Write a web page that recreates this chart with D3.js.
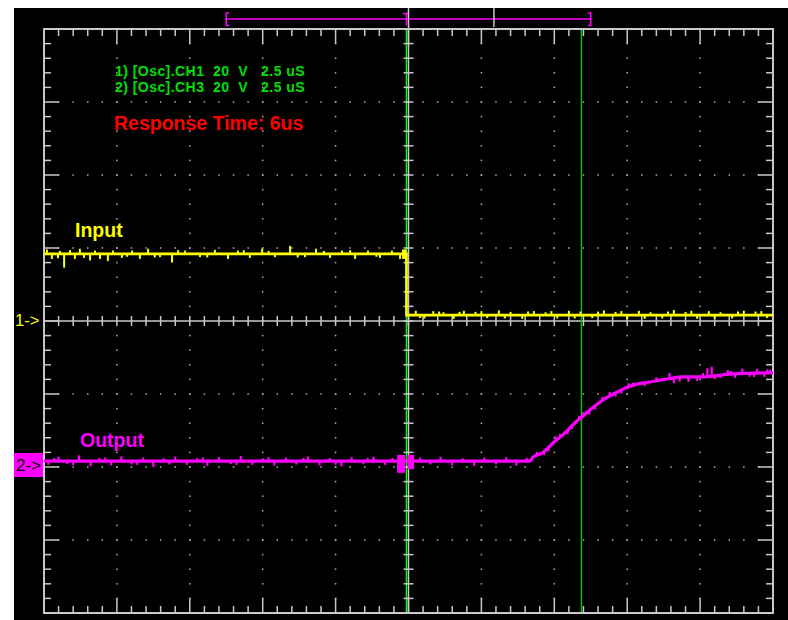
<!DOCTYPE html>
<html><head><meta charset="utf-8">
<script src="https://cdn.jsdelivr.net/npm/d3@7"></script>
<style>html,body{margin:0;padding:0;background:#fff;overflow:hidden} svg{display:block}</style>
</head><body><svg id="c" width="788" height="620"></svg>
<script>
// ---- data (time in µs, 2.5 µs/div; volts, 20 V/div) ----
const timeDomain = [-12.5, 12.5];
const divDomain = [-4, 4];
const voltsPerDiv = 20;
const ch1OffsetDiv = 0;
const ch2OffsetDiv = -2;
const infoLines = ["1) [Osc].CH1  20  V   2.5 uS", "2) [Osc].CH3  20  V   2.5 uS"];
const titleText = "Response Time: 6us";
const traceLabels = ["Input", "Output"];
const markerLabels = ["1->", "2->"];
const cursorTimes = [-0.07, 5.93];
const windowBracket = [-6.25, 6.25];
const windowMarks = [0, 2.93];

const inputTime  = [-12.5, -0.07, -0.07, 12.5];
const inputVolts = [18.4, 18.4, 1.6, 1.6];
const inputSpikes = [
 [-12.40,1.2],[-12.23,-1.4],[-12.02,-1.2],[-11.81,-3.8],[-11.61,1.0],[-11.44,-1.4],[-11.27,1.4],[-11.13,-1.1],
 [-10.92,-1.8],[-10.58,-1.4],[-10.31,-2.0],[-10.13,0.9],[-9.83,-1.1],[-9.48,0.9],[-9.21,-1.4],[-8.93,1.4],
 [-8.52,-0.9],[-8.11,-2.4],[-7.66,0.9],[-7.15,-0.9],[-6.64,1.1],[-6.19,-1.4],[-5.85,0.9],[-5.44,-1.1],
 [-5.02,1.4],[-4.58,-0.9],[-4.06,2.2],[-3.55,-0.9],[-3.17,1.4],[-2.69,-1.1],[-2.28,0.9],[-1.83,-1.4],
 [-1.39,0.9],[-0.98,-1.1],[-0.57,0.9],[-0.29,-1.4],
 [-11.95,0.8],[-10.75,0.9],[-9.65,-0.8],[-8.7,-1.0],[-7.9,1.0],[-6.9,-1.0],[-5.65,1.0],[-4.8,0.8],[-3.8,-1.0],[-2.9,0.8],[-2.0,1.0],[-1.1,-0.8],
 [0.25,1.2],[0.55,-0.9],[0.85,1.1],[1.2,0.8],[1.55,-1.0],[1.9,1.2],[2.3,0.9],[2.7,-0.8],[3.1,1.3],[3.5,0.9],
 [3.9,-1.0],[4.3,1.1],[4.7,0.8],[5.1,-0.9],[5.5,1.2],[5.9,1.0],[6.3,-0.8],[6.7,1.3],[7.1,0.9],[7.5,-1.1],
 [7.9,1.2],[8.3,0.8],[8.7,-0.9],[9.1,1.4],[9.5,0.9],[9.9,-1.0],[10.3,1.1],[10.7,0.8],[11.1,-0.9],[11.5,1.2],
 [11.9,1.0],[12.3,-0.8],
 [0.4,-0.8],[1.05,1.0],[1.75,0.9],[2.5,1.1],[3.3,-0.9],[4.1,1.0],[4.9,1.1],[5.7,-0.9],[6.5,1.0],[7.3,1.1],[8.1,-1.0],[8.9,1.0],[9.7,1.2],[10.5,-0.9],[11.3,1.0],[12.1,1.1]
];
const inputGlitch = [[-0.22, -0.07, 17.0, 19.6]];

const outputTime  = [-12.5, 4.17, 4.27, 4.58, 4.96, 5.13, 5.44, 5.71, 5.95, 6.22, 6.57, 6.84, 7.15, 7.42, 7.84, 8.28, 8.87, 9.41, 10.0, 11.13, 12.5];
const outputVolts = [1.6, 1.6, 2.7, 3.8, 6.6, 7.7, 9.9, 12.1, 13.7, 15.6, 17.8, 19.2, 20.5, 21.6, 22.7, 23.3, 24.1, 24.7, 24.7, 25.5, 25.8];
const outputSpikes = [
 [-12.35,-1.0],[-12.0,1.2],[-11.7,-0.8],[-11.3,1.6],[-10.9,-1.4],[-10.6,0.9],[-10.2,-1.1],[-9.85,1.3],
 [-9.5,-0.9],[-9.1,1.0],[-8.75,-1.6],[-8.4,0.8],[-8.0,1.2],[-7.6,-1.0],[-7.25,0.9],[-6.9,-1.3],[-6.5,1.1],
 [-6.1,-0.8],[-5.75,1.4],[-5.35,-1.0],[-5.0,0.8],[-4.6,-1.2],[-4.2,1.0],[-3.85,-0.9],[-3.45,1.3],[-3.05,-1.1],
 [-2.7,0.9],[-2.3,-1.4],[-1.95,1.1],[-1.55,-0.8],[-1.2,1.2],[-0.8,-1.0],[-0.55,0.9],
 [-12.15,0.9],[-11.5,-1.1],[-10.4,1.0],[-9.3,-1.0],[-8.2,-0.9],[-7.05,1.0],[-5.9,-1.0],[-4.8,1.1],[-3.6,0.9],[-2.5,-1.0],[-1.4,0.9],
 [0.4,1.0],[0.75,-0.9],[1.1,1.2],[1.5,-1.1],[1.85,0.8],[2.25,-1.3],[2.6,1.0],[3.0,-0.9],[3.35,1.1],[3.7,-1.2],[4.05,0.9],
 [4.4,1.0],[4.65,-1.0],[4.8,-1.1],[5.05,1.2],[5.2,0.9],[5.45,-1.0],[5.6,-0.8],[5.85,1.0],[6.0,1.0],[6.2,-1.1],[6.4,-0.9],[6.65,1.0],[6.9,1.1],[7.1,-1.0],[7.3,-1.0],[7.55,1.0],[7.7,0.8],[8.1,-0.9],[8.5,1.0],
 [8.95,1.6],[9.1,-1.4],[9.3,-1.2],[9.6,-1.4],[9.9,-1.1],[10.25,2.2],[10.4,2.5],[10.5,-1.0],[10.7,-0.8],[10.95,1.2],
 [11.2,-1.1],[11.45,1.4],[11.7,-0.9],[11.95,1.2],[12.2,-1.0],[12.4,0.9],[10.1,1.0],[11.05,0.9],[11.85,-1.0],[12.3,1.0]
];
const outputGlitch = [[-0.39, -0.12, -1.6, 3.3], [-0.02, 0.19, -0.6, 3.3]];

// ---- drawing ----
const svg = d3.select("#c");
const FONT = "'Liberation Sans', Arial, sans-serif";
const GRID = "#c8c8c8";
const x = d3.scaleLinear(timeDomain, [44, 773]);
const yd = d3.scaleLinear(divDomain, [613, 29]);
const y1 = v => yd(ch1OffsetDiv + v / voltsPerDiv);
const y2 = v => yd(ch2OffsetDiv + v / voltsPerDiv);

svg.append("rect").attr("x", 14).attr("y", 8).attr("width", 788 - 14).attr("height", 620 - 8).attr("fill", "#000");

const minorT = d3.range(0, 51).map(i => timeDomain[0] + i * 0.5);
const minorD = d3.range(0, 41).map(i => divDomain[0] + i * 0.2);
const isMajT = t => Math.abs(t / 2.5 - Math.round(t / 2.5)) < 1e-6;
const isMajD = v => Math.abs(v - Math.round(v)) < 1e-6;
const majT = minorT.filter(t => isMajT(t) && Math.abs(t) > 1e-6 && Math.abs(Math.abs(t) - 12.5) > 1e-6);
const majD = minorD.filter(v => isMajD(v) && Math.abs(v) > 1e-6 && Math.abs(Math.abs(v) - 4) > 1e-6);

// dots
const dots = [];
majT.forEach(t => minorD.slice(1, -1).forEach(v => dots.push([t, v])));
majD.forEach(v => minorT.slice(1, -1).forEach(t => dots.push([t, v])));
svg.append("g").selectAll("rect").data(dots).join("rect")
  .attr("x", d => x(d[0]) - 0.75).attr("y", d => yd(d[1]) - 0.75)
  .attr("width", 1.5).attr("height", 1.5).attr("fill", "#b0b0b0");

// center axis lines
const ax = svg.append("g").attr("stroke", GRID).attr("stroke-width", 1.5);
ax.append("line").attr("x1", x(timeDomain[0])).attr("x2", x(timeDomain[1])).attr("y1", yd(0)).attr("y2", yd(0));
ax.append("line").attr("x1", x(0)).attr("x2", x(0)).attr("y1", yd(divDomain[0])).attr("y2", yd(divDomain[1]));

// cursors
svg.append("g").selectAll("line").data(cursorTimes).join("line")
  .attr("x1", d => x(d)).attr("x2", d => x(d)).attr("y1", yd(4)).attr("y2", yd(-4))
  .attr("stroke", (d, i) => i === 0 ? "#00ff00" : "#00c000").attr("stroke-width", 1.5);

// border + ticks
const tk = svg.append("g").attr("stroke", GRID).attr("stroke-width", 1.5);
tk.append("rect").attr("x", x(timeDomain[0])).attr("y", yd(4)).attr("width", x(timeDomain[1]) - x(timeDomain[0]))
  .attr("height", yd(-4) - yd(4)).attr("fill", "none").attr("stroke-width", 2);
minorT.slice(1, -1).forEach(t => {
  const L = isMajT(t) ? 15 : 7;
  tk.append("line").attr("x1", x(t)).attr("x2", x(t)).attr("y1", yd(4)).attr("y2", yd(4) + L);
  tk.append("line").attr("x1", x(t)).attr("x2", x(t)).attr("y1", yd(-4)).attr("y2", yd(-4) - L);
  tk.append("line").attr("x1", x(t)).attr("x2", x(t)).attr("y1", yd(0) - 5).attr("y2", yd(0) + 5);
});
minorD.slice(1, -1).forEach(v => {
  const L = isMajD(v) ? 15 : 7;
  tk.append("line").attr("y1", yd(v)).attr("y2", yd(v)).attr("x1", x(-12.5)).attr("x2", x(-12.5) + L);
  tk.append("line").attr("y1", yd(v)).attr("y2", yd(v)).attr("x1", x(12.5)).attr("x2", x(12.5) - L);
  tk.append("line").attr("y1", yd(v)).attr("y2", yd(v)).attr("x1", x(0) - 5).attr("x2", x(0) + 5);
});

// top window bracket
const topY = 19;
svg.append("line").attr("x1", x(windowBracket[0])).attr("x2", x(windowBracket[1])).attr("y1", topY).attr("y2", topY)
  .attr("stroke", "#ff00ff").attr("stroke-width", 1.5);
[[windowBracket[0], 1], [windowBracket[1], -1]].forEach(([t, s]) => {
  svg.append("path").attr("d", `M${x(t) + 3 * s},13 H${x(t)} V25.5 H${x(t) + 3 * s}`)
    .attr("fill", "none").attr("stroke", "#ff00ff").attr("stroke-width", 1.5);
});
svg.append("path").attr("d", `M${x(cursorTimes[0]) - 3.5},13.5 H${x(cursorTimes[0]) + 3} M${x(cursorTimes[0])},13.5 V25.5`)
  .attr("fill", "none").attr("stroke", "#ff00ff").attr("stroke-width", 1.5);
svg.append("g").selectAll("line").data(windowMarks).join("line")
  .attr("x1", d => x(d)).attr("x2", d => x(d)).attr("y1", 8).attr("y2", (d, i) => i === 0 ? 29 : 27)
  .attr("stroke", GRID).attr("stroke-width", 1.5);

// traces
function interp(ts, vs, t) {
  const i = Math.max(1, d3.bisectRight(ts, t));
  const t0 = ts[i - 1], t1 = ts[Math.min(i, ts.length - 1)];
  const v0 = vs[i - 1], v1 = vs[Math.min(i, ts.length - 1)];
  return t1 === t0 ? v0 : v0 + (v1 - v0) * (t - t0) / (t1 - t0);
}
function drawTrace(ts, vs, spikes, glitch, yFn, color, w, sw, curve) {
  const g = svg.append("g");
  const line = d3.line().x(d => x(d[0])).y(d => yFn(d[1])).curve(curve);
  g.append("path").attr("d", line(ts.map((t, i) => [t, vs[i]])))
    .attr("fill", "none").attr("stroke", color).attr("stroke-width", w);
  g.selectAll("line").data(spikes).join("line")
    .attr("x1", d => x(d[0])).attr("x2", d => x(d[0]))
    .attr("y1", d => yFn(interp(ts, vs, d[0]))).attr("y2", d => yFn(interp(ts, vs, d[0]) + d[1]))
    .attr("stroke", color).attr("stroke-width", sw);
  g.selectAll("rect").data(glitch).join("rect")
    .attr("x", d => x(d[0])).attr("width", d => x(d[1]) - x(d[0]))
    .attr("y", d => yFn(d[3])).attr("height", d => yFn(d[2]) - yFn(d[3])).attr("fill", color);
}
drawTrace(inputTime, inputVolts, inputSpikes, inputGlitch, y1, "#ffff00", 2.6, 2, d3.curveLinear);
drawTrace(outputTime, outputVolts, outputSpikes, outputGlitch, y2, "#ff00ff", 3.2, 2.2, d3.curveMonotoneX);

// texts
svg.append("g").selectAll("text").data(infoLines).join("text")
  .attr("x", 115).attr("y", (d, i) => 76 + i * 16)
  .attr("fill", "#00e000").attr("font-family", FONT).attr("font-weight", "bold").attr("font-size", 14)
  .attr("letter-spacing", 0.45).style("white-space", "pre").text(d => d);
svg.append("text").attr("x", 114).attr("y", 130).attr("fill", "#ff0000").attr("font-family", FONT)
  .attr("font-weight", "bold").attr("font-size", 19.5).text(titleText);
svg.append("text").attr("x", 75).attr("y", 237).attr("fill", "#ffff00").attr("font-family", FONT)
  .attr("font-weight", "bold").attr("font-size", 19.5).text(traceLabels[0]);
svg.append("text").attr("x", 80).attr("y", 447).attr("fill", "#ff00ff").attr("font-family", FONT)
  .attr("font-weight", "bold").attr("font-size", 19.5).text(traceLabels[1]);

svg.append("text").attr("x", 15).attr("y", yd(ch1OffsetDiv) + 4.5).attr("fill", "#ffff00").attr("font-family", FONT)
  .attr("font-size", 16.5).text(markerLabels[0]);
svg.append("rect").attr("x", 14).attr("y", yd(ch2OffsetDiv) - 14).attr("width", 29).attr("height", 24).attr("fill", "#ff00ff");
svg.append("text").attr("x", 16).attr("y", yd(ch2OffsetDiv) + 3.5).attr("fill", "#000").attr("font-family", FONT)
  .attr("font-size", 17).text(markerLabels[1]);
</script></body></html>
